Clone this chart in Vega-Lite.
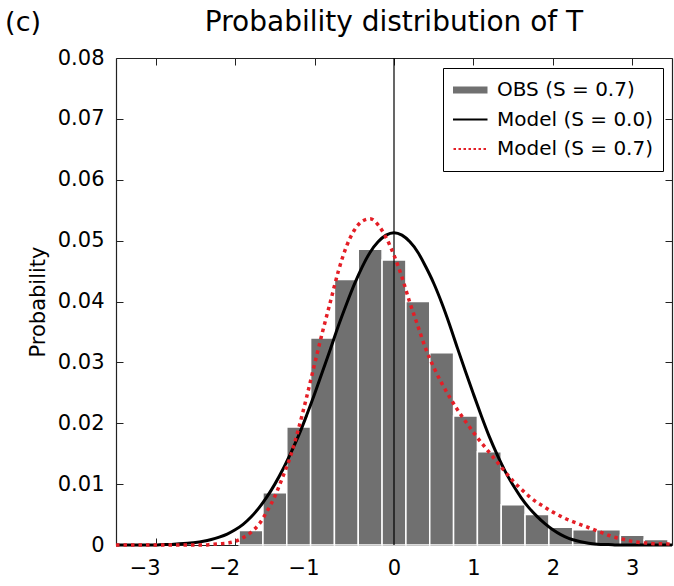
{
  "$schema": "https://vega.github.io/schema/vega-lite/v6.json",
  "width": 556,
  "height": 487,
  "autosize": {"type": "none"},
  "padding": {"left": 116, "top": 58, "right": 2, "bottom": 41},
  "background": "white",
  "config": {
    "view": {"stroke": null},
    "font": "DejaVu Sans",
    "axis": {
      "grid": false,
      "domainColor": "#222222",
      "domainWidth": 1.2,
      "tickColor": "#222222",
      "tickSize": -7,
      "labelPadding": 19,
      "labelFontSize": 21,
      "labelColor": "black",
      "labelFont": "DejaVu Sans",
      "titleFont": "DejaVu Sans",
      "titleFontSize": 21,
      "titleFontWeight": "normal",
      "titleColor": "black"
    }
  },
  "datasets": {
    "obs": [
      {"lo": -1.95, "hi": -1.65, "p": 0.0024, "series": "OBS (S = 0.7)"},
      {"lo": -1.65, "hi": -1.35, "p": 0.0086, "series": "OBS (S = 0.7)"},
      {"lo": -1.35, "hi": -1.05, "p": 0.0194, "series": "OBS (S = 0.7)"},
      {"lo": -1.05, "hi": -0.75, "p": 0.0340, "series": "OBS (S = 0.7)"},
      {"lo": -0.75, "hi": -0.45, "p": 0.0436, "series": "OBS (S = 0.7)"},
      {"lo": -0.45, "hi": -0.15, "p": 0.0486, "series": "OBS (S = 0.7)"},
      {"lo": -0.15, "hi": 0.15, "p": 0.0468, "series": "OBS (S = 0.7)"},
      {"lo": 0.15, "hi": 0.45, "p": 0.0400, "series": "OBS (S = 0.7)"},
      {"lo": 0.45, "hi": 0.75, "p": 0.0316, "series": "OBS (S = 0.7)"},
      {"lo": 0.75, "hi": 1.05, "p": 0.0212, "series": "OBS (S = 0.7)"},
      {"lo": 1.05, "hi": 1.35, "p": 0.0153, "series": "OBS (S = 0.7)"},
      {"lo": 1.35, "hi": 1.65, "p": 0.0066, "series": "OBS (S = 0.7)"},
      {"lo": 1.65, "hi": 1.95, "p": 0.0050, "series": "OBS (S = 0.7)"},
      {"lo": 1.95, "hi": 2.25, "p": 0.0029, "series": "OBS (S = 0.7)"},
      {"lo": 2.25, "hi": 2.55, "p": 0.0025, "series": "OBS (S = 0.7)"},
      {"lo": 2.55, "hi": 2.85, "p": 0.0025, "series": "OBS (S = 0.7)"},
      {"lo": 2.85, "hi": 3.15, "p": 0.0016, "series": "OBS (S = 0.7)"},
      {"lo": 3.15, "hi": 3.45, "p": 0.0009, "series": "OBS (S = 0.7)"}
    ],
    "model0": [
      {"x": -3.5, "p": 0, "series": "Model (S = 0.0)"},
      {"x": -3.4, "p": 0, "series": "Model (S = 0.0)"},
      {"x": -3.3, "p": 0, "series": "Model (S = 0.0)"},
      {"x": -3.2, "p": 0, "series": "Model (S = 0.0)"},
      {"x": -3.1, "p": 0, "series": "Model (S = 0.0)"},
      {"x": -3.0, "p": 0, "series": "Model (S = 0.0)"},
      {"x": -2.9, "p": 0.0001, "series": "Model (S = 0.0)"},
      {"x": -2.8, "p": 0.0001, "series": "Model (S = 0.0)"},
      {"x": -2.7, "p": 0.0002, "series": "Model (S = 0.0)"},
      {"x": -2.6, "p": 0.0003, "series": "Model (S = 0.0)"},
      {"x": -2.5, "p": 0.0004, "series": "Model (S = 0.0)"},
      {"x": -2.4, "p": 0.0006, "series": "Model (S = 0.0)"},
      {"x": -2.3, "p": 0.0009, "series": "Model (S = 0.0)"},
      {"x": -2.2, "p": 0.0013, "series": "Model (S = 0.0)"},
      {"x": -2.1, "p": 0.0018, "series": "Model (S = 0.0)"},
      {"x": -2.0, "p": 0.0025, "series": "Model (S = 0.0)"},
      {"x": -1.9, "p": 0.0034, "series": "Model (S = 0.0)"},
      {"x": -1.8, "p": 0.0046, "series": "Model (S = 0.0)"},
      {"x": -1.7, "p": 0.0061, "series": "Model (S = 0.0)"},
      {"x": -1.6, "p": 0.0079, "series": "Model (S = 0.0)"},
      {"x": -1.5, "p": 0.0100, "series": "Model (S = 0.0)"},
      {"x": -1.4, "p": 0.0124, "series": "Model (S = 0.0)"},
      {"x": -1.3, "p": 0.0151, "series": "Model (S = 0.0)"},
      {"x": -1.2, "p": 0.0180, "series": "Model (S = 0.0)"},
      {"x": -1.1, "p": 0.0213, "series": "Model (S = 0.0)"},
      {"x": -1.0, "p": 0.0248, "series": "Model (S = 0.0)"},
      {"x": -0.9, "p": 0.0285, "series": "Model (S = 0.0)"},
      {"x": -0.8, "p": 0.0322, "series": "Model (S = 0.0)"},
      {"x": -0.7, "p": 0.0360, "series": "Model (S = 0.0)"},
      {"x": -0.6, "p": 0.0395, "series": "Model (S = 0.0)"},
      {"x": -0.5, "p": 0.0428, "series": "Model (S = 0.0)"},
      {"x": -0.4, "p": 0.0457, "series": "Model (S = 0.0)"},
      {"x": -0.3, "p": 0.0481, "series": "Model (S = 0.0)"},
      {"x": -0.2, "p": 0.0498, "series": "Model (S = 0.0)"},
      {"x": -0.1, "p": 0.0509, "series": "Model (S = 0.0)"},
      {"x": 0.0, "p": 0.0513, "series": "Model (S = 0.0)"},
      {"x": 0.1, "p": 0.0509, "series": "Model (S = 0.0)"},
      {"x": 0.2, "p": 0.0498, "series": "Model (S = 0.0)"},
      {"x": 0.3, "p": 0.0481, "series": "Model (S = 0.0)"},
      {"x": 0.4, "p": 0.0457, "series": "Model (S = 0.0)"},
      {"x": 0.5, "p": 0.0430, "series": "Model (S = 0.0)"},
      {"x": 0.6, "p": 0.0398, "series": "Model (S = 0.0)"},
      {"x": 0.7, "p": 0.0362, "series": "Model (S = 0.0)"},
      {"x": 0.8, "p": 0.0323, "series": "Model (S = 0.0)"},
      {"x": 0.9, "p": 0.0285, "series": "Model (S = 0.0)"},
      {"x": 1.0, "p": 0.0248, "series": "Model (S = 0.0)"},
      {"x": 1.1, "p": 0.0212, "series": "Model (S = 0.0)"},
      {"x": 1.2, "p": 0.0178, "series": "Model (S = 0.0)"},
      {"x": 1.3, "p": 0.0148, "series": "Model (S = 0.0)"},
      {"x": 1.4, "p": 0.0121, "series": "Model (S = 0.0)"},
      {"x": 1.5, "p": 0.0098, "series": "Model (S = 0.0)"},
      {"x": 1.6, "p": 0.0078, "series": "Model (S = 0.0)"},
      {"x": 1.7, "p": 0.0061, "series": "Model (S = 0.0)"},
      {"x": 1.8, "p": 0.0047, "series": "Model (S = 0.0)"},
      {"x": 1.9, "p": 0.0035, "series": "Model (S = 0.0)"},
      {"x": 2.0, "p": 0.0025, "series": "Model (S = 0.0)"},
      {"x": 2.1, "p": 0.0017, "series": "Model (S = 0.0)"},
      {"x": 2.2, "p": 0.0011, "series": "Model (S = 0.0)"},
      {"x": 2.3, "p": 0.0007, "series": "Model (S = 0.0)"},
      {"x": 2.4, "p": 0.0004, "series": "Model (S = 0.0)"},
      {"x": 2.5, "p": 0.0002, "series": "Model (S = 0.0)"},
      {"x": 2.6, "p": 0.0001, "series": "Model (S = 0.0)"},
      {"x": 2.7, "p": 0.0001, "series": "Model (S = 0.0)"},
      {"x": 2.8, "p": 0, "series": "Model (S = 0.0)"},
      {"x": 2.9, "p": 0, "series": "Model (S = 0.0)"},
      {"x": 3.0, "p": 0, "series": "Model (S = 0.0)"},
      {"x": 3.1, "p": 0, "series": "Model (S = 0.0)"},
      {"x": 3.2, "p": 0, "series": "Model (S = 0.0)"},
      {"x": 3.3, "p": 0, "series": "Model (S = 0.0)"},
      {"x": 3.4, "p": 0, "series": "Model (S = 0.0)"},
      {"x": 3.5, "p": 0, "series": "Model (S = 0.0)"}
    ],
    "model7": [
      {"x": -3.5, "p": 0, "series": "Model (S = 0.7)"},
      {"x": -3.4, "p": 0, "series": "Model (S = 0.7)"},
      {"x": -3.3, "p": 0, "series": "Model (S = 0.7)"},
      {"x": -3.2, "p": 0, "series": "Model (S = 0.7)"},
      {"x": -3.1, "p": 0, "series": "Model (S = 0.7)"},
      {"x": -3.0, "p": 0, "series": "Model (S = 0.7)"},
      {"x": -2.9, "p": 0, "series": "Model (S = 0.7)"},
      {"x": -2.8, "p": 0, "series": "Model (S = 0.7)"},
      {"x": -2.7, "p": 0, "series": "Model (S = 0.7)"},
      {"x": -2.6, "p": 0, "series": "Model (S = 0.7)"},
      {"x": -2.5, "p": 0, "series": "Model (S = 0.7)"},
      {"x": -2.4, "p": 0, "series": "Model (S = 0.7)"},
      {"x": -2.3, "p": 0.0001, "series": "Model (S = 0.7)"},
      {"x": -2.2, "p": 0.0002, "series": "Model (S = 0.7)"},
      {"x": -2.1, "p": 0.0003, "series": "Model (S = 0.7)"},
      {"x": -2.0, "p": 0.0006, "series": "Model (S = 0.7)"},
      {"x": -1.9, "p": 0.0012, "series": "Model (S = 0.7)"},
      {"x": -1.8, "p": 0.0021, "series": "Model (S = 0.7)"},
      {"x": -1.7, "p": 0.0034, "series": "Model (S = 0.7)"},
      {"x": -1.6, "p": 0.0055, "series": "Model (S = 0.7)"},
      {"x": -1.5, "p": 0.0080, "series": "Model (S = 0.7)"},
      {"x": -1.4, "p": 0.0112, "series": "Model (S = 0.7)"},
      {"x": -1.3, "p": 0.0147, "series": "Model (S = 0.7)"},
      {"x": -1.2, "p": 0.0192, "series": "Model (S = 0.7)"},
      {"x": -1.1, "p": 0.0243, "series": "Model (S = 0.7)"},
      {"x": -1.0, "p": 0.0297, "series": "Model (S = 0.7)"},
      {"x": -0.9, "p": 0.0350, "series": "Model (S = 0.7)"},
      {"x": -0.8, "p": 0.0400, "series": "Model (S = 0.7)"},
      {"x": -0.7, "p": 0.0450, "series": "Model (S = 0.7)"},
      {"x": -0.6, "p": 0.0490, "series": "Model (S = 0.7)"},
      {"x": -0.5, "p": 0.0517, "series": "Model (S = 0.7)"},
      {"x": -0.4, "p": 0.0532, "series": "Model (S = 0.7)"},
      {"x": -0.3, "p": 0.0536, "series": "Model (S = 0.7)"},
      {"x": -0.2, "p": 0.0526, "series": "Model (S = 0.7)"},
      {"x": -0.1, "p": 0.0505, "series": "Model (S = 0.7)"},
      {"x": 0.0, "p": 0.0476, "series": "Model (S = 0.7)"},
      {"x": 0.1, "p": 0.0440, "series": "Model (S = 0.7)"},
      {"x": 0.2, "p": 0.0398, "series": "Model (S = 0.7)"},
      {"x": 0.3, "p": 0.0360, "series": "Model (S = 0.7)"},
      {"x": 0.4, "p": 0.0322, "series": "Model (S = 0.7)"},
      {"x": 0.5, "p": 0.0292, "series": "Model (S = 0.7)"},
      {"x": 0.6, "p": 0.0266, "series": "Model (S = 0.7)"},
      {"x": 0.7, "p": 0.0243, "series": "Model (S = 0.7)"},
      {"x": 0.8, "p": 0.0222, "series": "Model (S = 0.7)"},
      {"x": 0.9, "p": 0.0203, "series": "Model (S = 0.7)"},
      {"x": 1.0, "p": 0.0185, "series": "Model (S = 0.7)"},
      {"x": 1.1, "p": 0.0168, "series": "Model (S = 0.7)"},
      {"x": 1.2, "p": 0.0152, "series": "Model (S = 0.7)"},
      {"x": 1.3, "p": 0.0136, "series": "Model (S = 0.7)"},
      {"x": 1.4, "p": 0.0120, "series": "Model (S = 0.7)"},
      {"x": 1.5, "p": 0.0105, "series": "Model (S = 0.7)"},
      {"x": 1.6, "p": 0.0092, "series": "Model (S = 0.7)"},
      {"x": 1.7, "p": 0.0080, "series": "Model (S = 0.7)"},
      {"x": 1.8, "p": 0.0070, "series": "Model (S = 0.7)"},
      {"x": 1.9, "p": 0.0062, "series": "Model (S = 0.7)"},
      {"x": 2.0, "p": 0.0054, "series": "Model (S = 0.7)"},
      {"x": 2.1, "p": 0.0047, "series": "Model (S = 0.7)"},
      {"x": 2.2, "p": 0.0041, "series": "Model (S = 0.7)"},
      {"x": 2.3, "p": 0.0036, "series": "Model (S = 0.7)"},
      {"x": 2.4, "p": 0.0031, "series": "Model (S = 0.7)"},
      {"x": 2.5, "p": 0.0026, "series": "Model (S = 0.7)"},
      {"x": 2.6, "p": 0.0021, "series": "Model (S = 0.7)"},
      {"x": 2.7, "p": 0.0016, "series": "Model (S = 0.7)"},
      {"x": 2.8, "p": 0.0012, "series": "Model (S = 0.7)"},
      {"x": 2.9, "p": 0.0009, "series": "Model (S = 0.7)"},
      {"x": 3.0, "p": 0.0006, "series": "Model (S = 0.7)"},
      {"x": 3.1, "p": 0.0004, "series": "Model (S = 0.7)"},
      {"x": 3.2, "p": 0.0003, "series": "Model (S = 0.7)"},
      {"x": 3.3, "p": 0.0002, "series": "Model (S = 0.7)"},
      {"x": 3.4, "p": 0.0002, "series": "Model (S = 0.7)"},
      {"x": 3.5, "p": 0.0001, "series": "Model (S = 0.7)"}
    ]
  },
  "resolve": {"axis": {"x": "independent", "y": "independent"}},
  "layer": [
    {
      "data": {"name": "obs"},
      "mark": {"type": "bar", "stroke": "white", "strokeWidth": 1.5},
      "encoding": {
        "x": {
          "field": "lo", "type": "quantitative",
          "scale": {"domain": [-3.5, 3.5], "nice": false, "zero": false},
          "axis": {
            "values": [-3, -2, -1, 0, 1, 2, 3],
            "title": null,
            "labelFlush": false,
            "labelOffset": {"condition": {"test": "datum.value < 0", "value": -11}, "value": 0}
          }
        },
        "x2": {"field": "hi"},
        "y": {
          "field": "p", "type": "quantitative",
          "scale": {"domain": [0, 0.08], "nice": false},
          "axis": {
            "values": [0, 0.01, 0.02, 0.03, 0.04, 0.05, 0.06, 0.07, 0.08],
            "format": ".2~f",
            "title": "Probability",
            "titlePadding": 9,
            "labelFlush": false
          }
        },
        "y2": {"datum": 0},
        "color": {
          "field": "series", "type": "nominal",
          "scale": {
            "domain": ["OBS (S = 0.7)", "Model (S = 0.0)", "Model (S = 0.7)"],
            "range": ["#707070", "#000000", "#e41e26"]
          },
          "legend": {
            "title": null,
            "orient": "none",
            "legendX": 327,
            "legendY": 10,
            "symbolType": "M-3,0H3",
            "symbolSize": 169,
            "symbolStrokeWidth": {"expr": "(datum.value === 'OBS (S = 0.7)' ? 7 : 2)"},
            "symbolDash": {"expr": "(datum.value === 'Model (S = 0.7)' ? [2.5, 2.5] : [1, 0])"},
            "symbolStrokeColor": {"expr": "(datum.value === 'OBS (S = 0.7)' ? '#707070' : datum.value === 'Model (S = 0.0)' ? '#000000' : '#e41e26')"},
            "symbolOffset": 5,
            "clipHeight": 24,
            "labelFontSize": 20,
            "labelFont": "DejaVu Sans",
            "labelColor": "black",
            "labelOffset": 19,
            "padding": 10,
            "rowPadding": 5.5,
            "strokeColor": "black",
            "fillColor": "white"
          }
        }
      }
    },
    {
      "data": {"values": [{}]},
      "mark": {"type": "rule", "color": "black", "strokeWidth": 1.2},
      "encoding": {
        "x": {"datum": 0, "type": "quantitative", "axis": null}
      }
    },
    {
      "data": {"name": "model0"},
      "mark": {"type": "line", "strokeWidth": 3, "interpolate": "monotone"},
      "encoding": {
        "x": {"field": "x", "type": "quantitative", "axis": null},
        "y": {"field": "p", "type": "quantitative", "axis": null},
        "color": {"field": "series", "type": "nominal", "legend": null}
      }
    },
    {
      "data": {"name": "model7"},
      "mark": {"type": "line", "strokeWidth": 3.5, "strokeDash": [3.5, 4], "interpolate": "monotone"},
      "encoding": {
        "x": {
          "field": "x", "type": "quantitative",
          "axis": {"orient": "top", "labels": false, "title": null, "values": [-3, -2, -1, 0, 1, 2, 3]}
        },
        "y": {
          "field": "p", "type": "quantitative",
          "axis": {"orient": "right", "labels": false, "title": null, "values": [0, 0.01, 0.02, 0.03, 0.04, 0.05, 0.06, 0.07, 0.08]}
        },
        "color": {"field": "series", "type": "nominal", "legend": null}
      }
    },
    {
      "data": {"values": [{"label": "(c)"}]},
      "mark": {"type": "text", "fontSize": 27, "font": "DejaVu Sans", "baseline": "alphabetic", "align": "center", "color": "black"},
      "encoding": {
        "x": {"datum": -4.67, "type": "quantitative", "axis": null},
        "y": {"datum": 0.0844, "type": "quantitative", "axis": null},
        "text": {"field": "label"}
      }
    },
    {
      "data": {"values": [{"label": "Probability distribution of T"}]},
      "mark": {"type": "text", "fontSize": 28, "font": "DejaVu Sans", "baseline": "alphabetic", "align": "center", "color": "black"},
      "encoding": {
        "x": {"datum": 0, "type": "quantitative", "axis": null},
        "y": {"datum": 0.0844, "type": "quantitative", "axis": null},
        "text": {"field": "label"}
      }
    }
  ]
}
